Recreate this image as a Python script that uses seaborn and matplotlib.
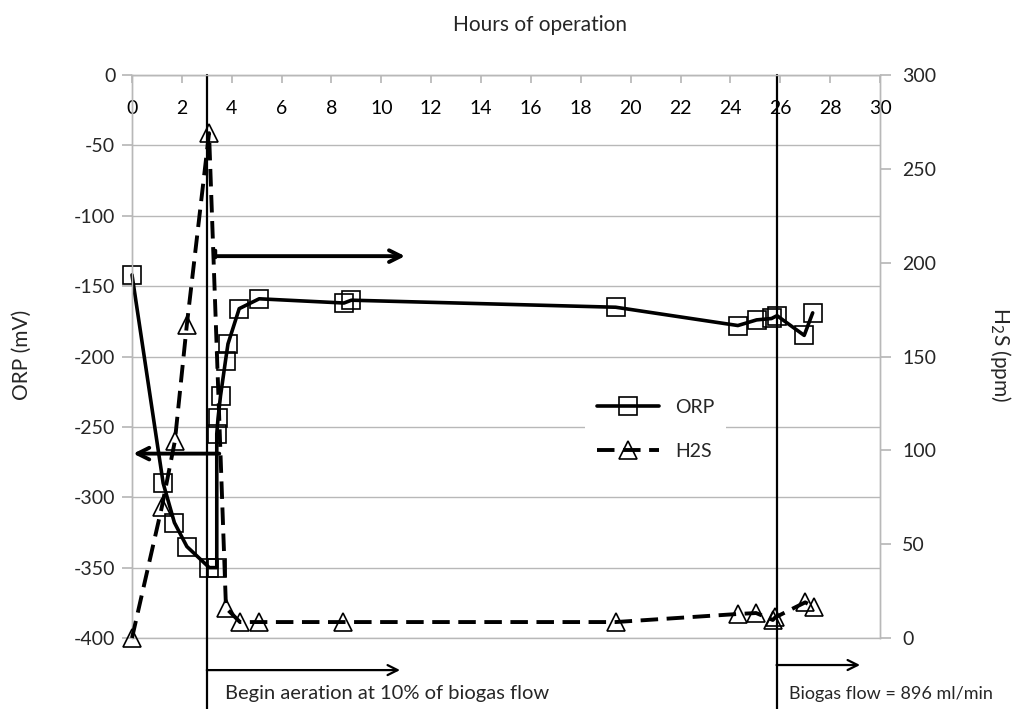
import matplotlib
matplotlib.use("Agg")
import matplotlib.pyplot as plt
import seaborn as sns
import pandas as pd
from matplotlib.lines import Line2D

# ---- data ----
orp_hours = [0, 1.25, 1.7, 2.2, 3.1, 3.4, 3.4, 3.45, 3.55, 3.75, 3.85, 4.3, 5.1, 8.5, 8.8,
             19.4, 24.3, 25.05, 25.65, 25.87, 26.96, 27.3]
orp_mv = [-142, -290, -318, -335, -350, -350, -255, -244, -228, -203, -191, -166, -159, -162, -160,
          -165, -178, -174, -173, -171, -185, -169]

h2s_hours = [0, 1.2, 1.72, 2.2, 3.09, 3.77, 4.33, 5.1, 8.46, 19.4, 24.3, 25.03, 25.7, 25.8, 27.0, 27.35]
h2s_ppm = [0, 70, 105, 167, 269, 16, 8.5, 8.5, 8.5, 8.5, 12.8, 13.3, 9.6, 11, 19, 16.5]

x_ticks = list(range(0, 31, 2))
left_ticks = list(range(-400, 1, 50))
right_ticks = list(range(0, 301, 50))
aeration_hour = 3.0
flow_hour = 25.85

sns.set_theme(style="white")
plt.rcParams['font.family'] = ['Lato', 'DejaVu Sans']
plt.rcParams['axes.unicode_minus'] = False

fig = plt.figure(figsize=(10.32, 7.09), dpi=100)
ax = fig.add_axes([132/1032, 1-638/709, 748/1032, 563/709])
ax2 = ax.twinx()

df_orp = pd.DataFrame({"hours": orp_hours, "orp": orp_mv})
df_h2s = pd.DataFrame({"hours": h2s_hours, "h2s": h2s_ppm})

sns.lineplot(data=df_orp, x="hours", y="orp", ax=ax, sort=False, estimator=None,
             color="black", linewidth=2.6, marker="s", markersize=13,
             markerfacecolor="none", markeredgecolor="black", markeredgewidth=1.2, zorder=3)
sns.lineplot(data=df_h2s, x="hours", y="h2s", ax=ax2, sort=False, estimator=None,
             color="black", linewidth=2.8, marker="^", markersize=13,
             markerfacecolor="none", markeredgecolor="black", markeredgewidth=1.2, zorder=3)
for l in ax.get_lines():
    l.set_clip_on(False)
for l in ax2.get_lines():
    l.set_dashes([4.5, 2.2])
    l.set_clip_on(False)

ax.set_xlim(0, 30)
ax.set_ylim(-400, 0)
ax2.set_ylim(0, 300)
ax.set_xticks(x_ticks)
ax.set_yticks(left_ticks)
ax2.set_yticks(right_ticks)
ax.set_xlabel("")
ax.set_ylabel("")
ax2.set_ylabel("")

grid_c = "#b8b8b8"
ax.grid(axis="y", color=grid_c, linewidth=1)
ax.grid(axis="x", visible=False)
ax2.grid(False)
for a in (ax, ax2):
    for s in a.spines.values():
        s.set_color(grid_c)
        s.set_linewidth(1)
ax2.spines["bottom"].set_visible(False)

ax.xaxis.tick_top()
ax.tick_params(axis="x", top=True, bottom=False, direction="in", length=6, color=grid_c,
               pad=-30, labelsize=14, labelcolor="black")
ax.tick_params(axis="y", left=True, length=7, color=grid_c, labelsize=14, pad=5)
ax2.tick_params(axis="y", right=True, length=8, color=grid_c, labelsize=14, pad=8)

# vertical event lines
for h in (aeration_hour, flow_hour):
    ax.axvline(h, ymin=-0.13, ymax=1, color="black", linewidth=1.6, clip_on=False, zorder=4)

# inner arrows
ax.annotate("", xy=(10.95, -128.7), xytext=(3.30, -128.7),
            arrowprops=dict(arrowstyle="->,head_length=0.7,head_width=0.35", color="black",
                            lw=2.8, shrinkA=0, shrinkB=0))
ax.plot([3.33, 3.33], [-124.5, -129.5], color="black", linewidth=2.5, zorder=4)
ax.annotate("", xy=(0.05, -269), xytext=(3.5, -269),
            arrowprops=dict(arrowstyle="->,head_length=0.7,head_width=0.35", color="black",
                            lw=2.8, shrinkA=0, shrinkB=0))

# bottom arrows and notes
trans = ax.get_xaxis_transform()
ax.annotate("", xy=(10.75, -0.057), xytext=(aeration_hour, -0.057), xycoords=trans,
            textcoords=trans, annotation_clip=False,
            arrowprops=dict(arrowstyle="->,head_length=0.6,head_width=0.3", color="black",
                            lw=1.6, shrinkA=0, shrinkB=0))
ax.annotate("", xy=(29.2, -0.048), xytext=(flow_hour, -0.048), xycoords=trans,
            textcoords=trans, annotation_clip=False,
            arrowprops=dict(arrowstyle="->,head_length=0.6,head_width=0.3", color="black",
                            lw=1.6, shrinkA=0, shrinkB=0))
ax.text(3.73, -0.099, "Begin aeration at 10% of biogas flow", transform=trans,
        fontsize=14.5, va="center", ha="left", clip_on=False)
ax.text(26.35, -0.099, "Biogas flow = 896 ml/min", transform=trans,
        fontsize=13, va="center", ha="left", clip_on=False)

# legend
handles = [
    Line2D([0], [0], color="black", linewidth=2.6, marker="s", markersize=13,
           markerfacecolor="none", markeredgecolor="black", markeredgewidth=1.2),
    Line2D([0], [0], color="black", linewidth=2.8, marker="^", markersize=13,
           markerfacecolor="none", markeredgecolor="black", markeredgewidth=1.2,
           dashes=[4.5, 2.2]),
]
leg = ax2.legend(handles, ["ORP", "H2S"], loc="center", bbox_to_anchor=(0.70, 0.37),
                 frameon=True, framealpha=1, edgecolor="none", facecolor="white",
                 fontsize=14, handlelength=3.2, labelspacing=1.4, borderpad=0.6)

fig.text(540/1032, 1-25/709, "Hours of operation", fontsize=15, ha="center", va="center")
fig.text(22/1032, 1-355/709, "ORP (mV)", fontsize=15, rotation=90, ha="center", va="center")
fig.text(1000/1032, 1-355/709, "H$_2$S (ppm)", fontsize=15, rotation=270, ha="center", va="center")

fig.savefig("out.png", dpi=100)
